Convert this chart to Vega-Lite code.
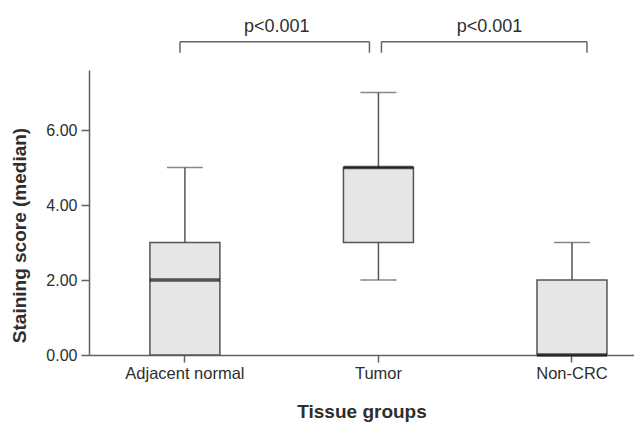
{
  "$schema": "https://vega.github.io/schema/vega-lite/v6.json",
  "autosize": "none",
  "width": 545,
  "height": 285,
  "padding": {"left": 89, "top": 70, "right": 0, "bottom": 67},
  "background": "white",
  "config": {
    "view": {"stroke": null},
    "font": "Liberation Sans",
    "axis": {
      "labelFont": "Liberation Sans",
      "titleFont": "Liberation Sans",
      "labelColor": "#2e2e2e",
      "titleColor": "#2e2e2e",
      "domainColor": "#606060",
      "tickColor": "#606060",
      "domainWidth": 1.5,
      "tickWidth": 1.5,
      "grid": false,
      "titleFontWeight": "bold",
      "titleFontSize": 19,
      "labelFontSize": 16
    }
  },
  "datasets": {
    "boxes": [
      {"group": "Adjacent normal", "min": 0, "q1": 0, "median": 2, "q3": 3, "max": 5},
      {"group": "Tumor", "min": 2, "q1": 3, "median": 5, "q3": 5, "max": 7},
      {"group": "Non-CRC", "min": 0, "q1": 0, "median": 0, "q3": 2, "max": 3}
    ],
    "brackets": [
      {"from": "Adjacent normal", "to": "Tumor", "label": "p<0.001"},
      {"from": "Tumor", "to": "Non-CRC", "label": "p<0.001"}
    ]
  },
  "layer": [
    {
      "data": {"name": "boxes"},
      "encoding": {
        "x": {
          "field": "group", "type": "nominal",
          "scale": {"domain": ["Adjacent normal", "Tumor", "Non-CRC"], "paddingInner": 0.5, "paddingOuter": 0.158, "align": 0.777},
          "axis": {"title": "Tissue groups", "labelAngle": 0, "tickSize": 7, "labelPadding": 3, "titlePadding": 21, "labelFontSize": 16.5}
        }
      },
      "layer": [
        {
          "mark": {"type": "rule", "color": "#555555", "strokeWidth": 1.5},
          "encoding": {
            "y": {"field": "min", "type": "quantitative", "scale": {"domain": [0, 7.6], "nice": false, "zero": true},
              "axis": {"title": "Staining score (median)", "values": [0, 2, 4, 6], "format": ".2f", "tickSize": 8, "labelPadding": 4, "titlePadding": 16, "titleY": 165}},
            "y2": {"field": "max"}
          }
        },
        {
          "mark": {"type": "tick", "color": "#555555", "thickness": 1.5, "size": 36},
          "encoding": {"y": {"field": "max", "type": "quantitative"}}
        },
        {
          "mark": {"type": "tick", "color": "#555555", "thickness": 1.5, "size": 36},
          "encoding": {"y": {"field": "min", "type": "quantitative"}}
        },
        {
          "mark": {"type": "bar", "width": 70, "fill": "#e5e6e6", "stroke": "#555555", "strokeWidth": 1.5},
          "encoding": {
            "y": {"field": "q1", "type": "quantitative"},
            "y2": {"field": "q3"}
          }
        },
        {
          "mark": {"type": "tick", "color": "#111111", "thickness": 3.5, "size": 70},
          "encoding": {"y": {"field": "median", "type": "quantitative"}}
        }
      ]
    },
    {
      "data": {"name": "brackets"},
      "transform": [{"filter": "datum.from == 'Adjacent normal'"}],
      "layer": [
        {
          "mark": {"type": "rule", "color": "#666666", "strokeWidth": 1.5},
          "encoding": {
            "x": {"field": "from", "type": "nominal", "bandPosition": 0.449},
            "x2": {"field": "to", "bandPosition": 0.407},
            "y": {"datum": 8.355}
          }
        },
        {
          "mark": {"type": "rule", "color": "#666666", "strokeWidth": 1.5},
          "encoding": {
            "x": {"field": "from", "type": "nominal", "bandPosition": 0.449},
            "y": {"datum": 8.355},
            "y2": {"datum": 8.06}
          }
        },
        {
          "mark": {"type": "rule", "color": "#666666", "strokeWidth": 1.5},
          "encoding": {
            "x": {"field": "to", "type": "nominal", "bandPosition": 0.407},
            "y": {"datum": 8.355},
            "y2": {"datum": 8.06}
          }
        },
        {
          "mark": {"type": "text", "fontSize": 18, "color": "#2e2e2e", "baseline": "alphabetic", "align": "center"},
          "encoding": {
            "x": {"field": "from", "type": "nominal", "bandPosition": 1.45},
            "y": {"datum": 8.62},
            "text": {"field": "label"}
          }
        }
      ]
    },
    {
      "data": {"name": "brackets"},
      "transform": [{"filter": "datum.from == 'Tumor'"}],
      "layer": [
        {
          "mark": {"type": "rule", "color": "#666666", "strokeWidth": 1.5},
          "encoding": {
            "x": {"field": "from", "type": "nominal", "bandPosition": 0.531},
            "x2": {"field": "to", "bandPosition": 0.655},
            "y": {"datum": 8.355}
          }
        },
        {
          "mark": {"type": "rule", "color": "#666666", "strokeWidth": 1.5},
          "encoding": {
            "x": {"field": "from", "type": "nominal", "bandPosition": 0.531},
            "y": {"datum": 8.355},
            "y2": {"datum": 8.06}
          }
        },
        {
          "mark": {"type": "rule", "color": "#666666", "strokeWidth": 1.5},
          "encoding": {
            "x": {"field": "to", "type": "nominal", "bandPosition": 0.655},
            "y": {"datum": 8.355},
            "y2": {"datum": 8.06}
          }
        },
        {
          "mark": {"type": "text", "fontSize": 18, "color": "#2e2e2e", "baseline": "alphabetic", "align": "center"},
          "encoding": {
            "x": {"field": "from", "type": "nominal", "bandPosition": 1.648},
            "y": {"datum": 8.62},
            "text": {"field": "label"}
          }
        }
      ]
    }
  ]
}
